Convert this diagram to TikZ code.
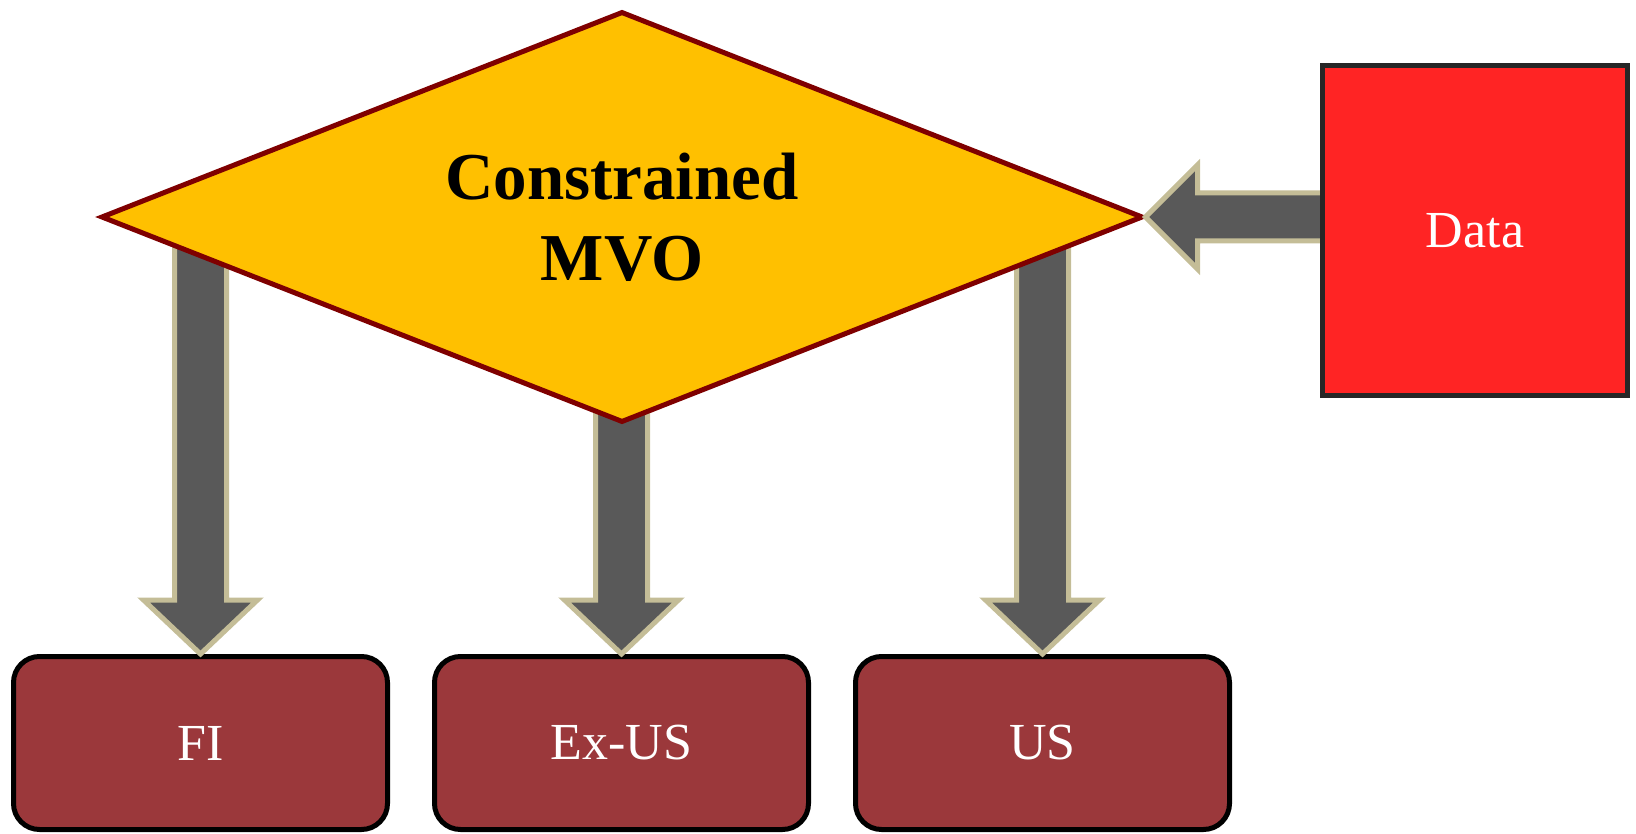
\documentclass[tikz,border=0pt]{standalone}
\usepackage{fontspec}
\setmainfont{Liberation Serif}
\usetikzlibrary{shapes.geometric,calc}
\definecolor{diamfill}{HTML}{FFC000}
\definecolor{diamline}{HTML}{7F0000}
\definecolor{arrfill}{HTML}{595959}
\definecolor{arrline}{HTML}{C4BD97}
\definecolor{boxfill}{HTML}{9B383B}
\definecolor{datafill}{HTML}{FF2424}
\definecolor{dataline}{HTML}{262626}
\begin{document}
\begin{tikzpicture}[x=1pt,y=-1pt,
  outbox/.style={draw=black, line width=5pt, fill=boxfill, rounded corners=26pt,
    minimum width=374pt, minimum height=173pt, inner sep=0pt, text=white,
    font=\fontsize{52}{60}\selectfont},
  databox/.style={draw=dataline, line width=5pt, fill=datafill,
    minimum width=305pt, minimum height=330pt, inner sep=0pt, text=white,
    font=\fontsize{52}{60}\selectfont},
  decision/.style={diamond, aspect=2.57, draw=diamline, line width=5pt, fill=diamfill,
    minimum width=1042pt, minimum height=411pt, inner sep=0pt, align=center,
    font=\fontsize{67}{81}\selectfont\bfseries},
  fatarrow/.style={draw=arrline, fill=arrfill, line width=5pt, line join=miter}]
\useasboundingbox (0,0) rectangle (1636,834);

% nodes (positions)
\path (622,217) coordinate (cmc);
\node[outbox] (fi)   at (200.5,743) {\raisebox{-2pt}{FI}};
\node[outbox] (exus) at (621.5,743) {\raisebox{-2pt}{Ex-US}};
\node[outbox] (us)   at (1042.5,743) {\raisebox{-2pt}{US}};

% down arrows (drawn beneath the diamond)
\foreach \b in {fi,exus,us}{
  \filldraw[fatarrow] (\b.north)
    -- ($(\b.north)+(57,-54)$) -- ($(\b.north)+(26,-54)$)
    -- ($(\b.north |- cmc)+(26,0)$) -- ($(\b.north |- cmc)+(-26,0)$)
    -- ($(\b.north)+(-26,-54)$) -- ($(\b.north)+(-57,-54)$) -- cycle;
}

\node[decision] (cm) at (cmc) {Constrained\\MVO};

% left arrow from Data to the diamond
\path (1475,230.5) coordinate (datac);
\filldraw[fatarrow] (cm.east)
  -- ($(cm.east)+(52,-52)$) -- ($(cm.east)+(52,-24)$)
  -- ($(cm.east -| datac)+(-140,-24)$) -- ($(cm.east -| datac)+(-140,24)$)
  -- ($(cm.east)+(52,24)$) -- ($(cm.east)+(52,52)$) -- cycle;

\node[databox] (data) at (datac) {\raisebox{-3pt}{Data}};
\end{tikzpicture}
\end{document}
